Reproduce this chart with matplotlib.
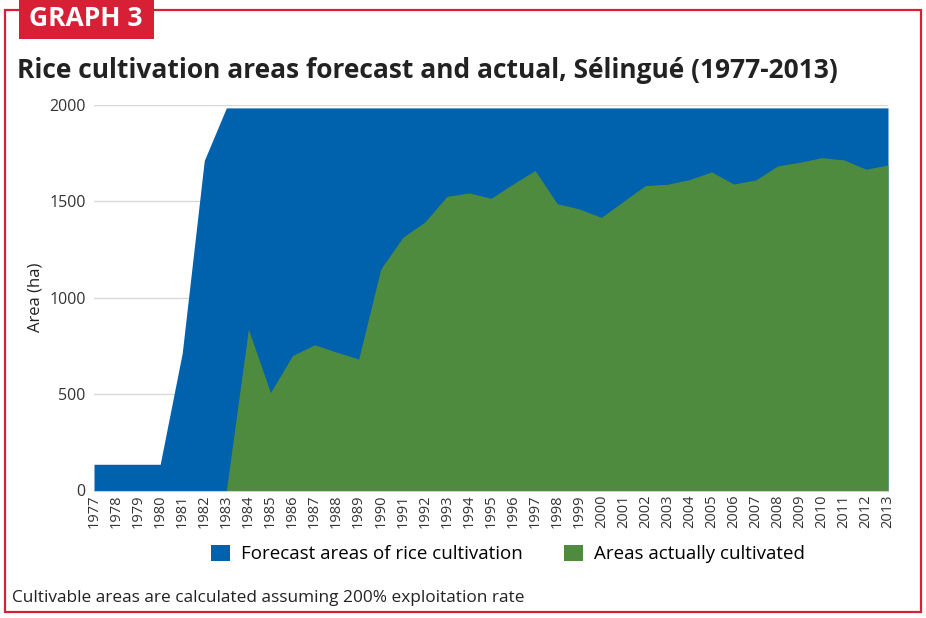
import matplotlib
matplotlib.use("Agg")
import matplotlib.pyplot as plt
from matplotlib.patches import Rectangle
import numpy as np

plt.rcParams['font.family'] = ['Open Sans', 'DejaVu Sans']

# data
years = list(range(1977, 2014))
forecast = [136, 136, 136, 136, 713, 1712] + [1985] * 31
actual = [0, 0, 0, 0, 0, 0, 0,
          837, 508, 700, 756, 718, 682, 1149, 1313, 1393, 1526, 1544,
          1516, 1590, 1660, 1488, 1461, 1417, 1500, 1582, 1589, 1613,
          1653, 1590, 1611, 1684, 1703, 1727, 1715, 1667, 1689]
yticks = [0, 500, 1000, 1500, 2000]

RED = '#d71f36'
BLUE = '#0061ad'
GREEN = '#4f8b3f'

fig = plt.figure(figsize=(9.26, 6.18), dpi=100)

# frame and header box
fig.patches.append(Rectangle((5 / 926, 6 / 618), 916 / 926, 602 / 618, transform=fig.transFigure,
                             fill=False, edgecolor=RED, linewidth=1.6))
fig.patches.append(Rectangle((19 / 926, 1 - 39 / 618), 135 / 926, 39 / 618, transform=fig.transFigure,
                             facecolor=RED, edgecolor='none'))
fig.text(86 / 926, 1 - 19 / 618, 'GRAPH 3', color='white', fontsize=19, fontweight='bold',
         va='center', ha='center')
fig.text(17 / 926, 1 - 70 / 618, 'Rice cultivation areas forecast and actual, Sélingué (1977-2013)',
         fontsize=19, fontweight='bold', color='#222222', va='center', ha='left')

ax = fig.add_axes([94 / 926, 127.5 / 618, 794 / 926, 385.5 / 618])
x = np.array(years)
ax.fill_between(x, 0, forecast, color=BLUE, linewidth=0, label='Forecast areas of rice cultivation')
ax.fill_between(x, 0, actual, color=GREEN, linewidth=0, label='Areas actually cultivated')

ax.set_xlim(1977, 2013)
ax.set_ylim(0, 2000)
ax.set_yticks(yticks)
ax.set_xticks(years)
ax.set_xticklabels([str(y) for y in years], rotation=90, fontsize=10.5, color='#333333')
ax.tick_params(axis='y', labelsize=11.5, colors='#333333', length=0, pad=6)
ax.tick_params(axis='x', length=0, pad=3)
ax.grid(axis='y', color='#d9d9d9', linewidth=1)
ax.set_axisbelow(True)
for s in ['top', 'right', 'left']:
    ax.spines[s].set_visible(False)
ax.spines['bottom'].set_color('#cccccc')
ax.set_ylabel('Area (ha)', fontsize=12, color='#222222', labelpad=4)

leg = fig.legend(loc='center', bbox_to_anchor=(508 / 926, 1 - 554 / 618), ncol=2, frameon=False,
                 fontsize=13.5, handlelength=1.0, handleheight=1.0, columnspacing=2.2, handletextpad=0.6)

fig.text(12 / 926, 1 - 598 / 618, 'Cultivable areas are calculated assuming 200% exploitation rate',
         fontsize=12.4, color='#222222', va='center', ha='left')

fig.savefig('out.png', dpi=100)
